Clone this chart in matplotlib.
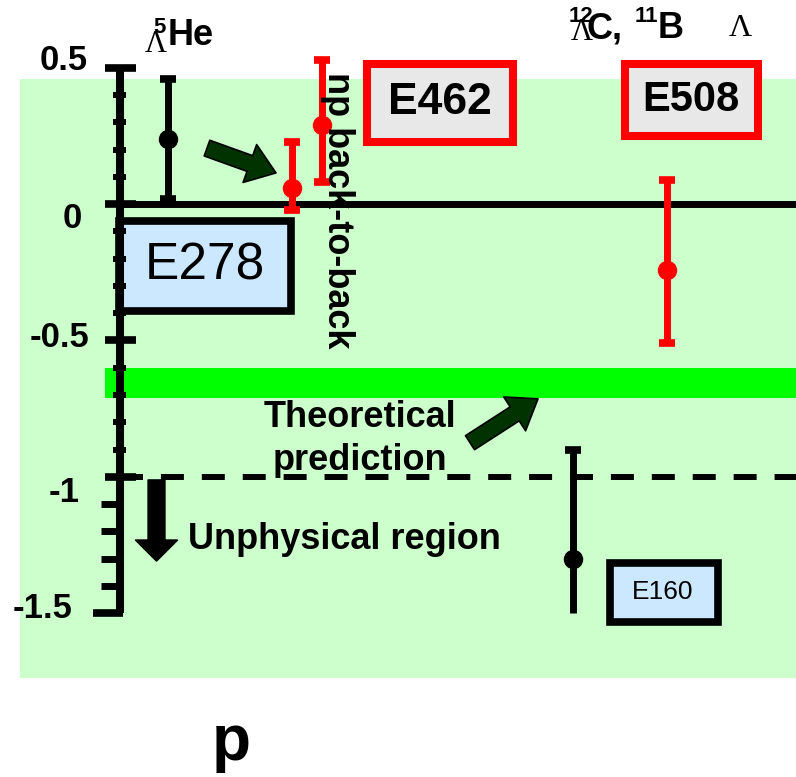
import matplotlib
matplotlib.use("Agg")
import matplotlib.pyplot as plt
from matplotlib.patches import Rectangle, FancyArrowPatch

plt.rcParams['font.family'] = ['Liberation Sans', 'DejaVu Sans']

# measured asymmetry values with errors
labels = ["5He", "E462 a", "E462 b", "E160", "E508"]
xpos = [168, 292, 322, 573, 667]
vals = [0.24, 0.06, 0.29, -1.30, -0.24]
err_up = [0.22, 0.17, 0.24, 0.40, 0.33]
err_lo = [0.22, 0.08, 0.21, 0.20, 0.27]
colors = ["black", "red", "red", "black", "red"]

theory = (-0.71, -0.60)
major_ticks = [0.5, 0, -0.5, -1, -1.5]
tick_text = ["0.5", "0", "-0.5", "-1", "-1.5"]
tick_text_x = [88, 82, 89, 80, 72]
tick_text_dy = [-0.007, -0.087, -0.024, -0.093, -0.018]
minor_upper = [0.4, 0.3, 0.2, 0.1, -0.1, -0.2, -0.3, -0.4, -0.6, -0.7, -0.8, -0.9]
minor_lower = [-1.1, -1.2, -1.3, -1.4]

fig = plt.figure(figsize=(7.96, 7.77), dpi=100)
ax = fig.add_axes([0, 0, 1, 1])
ax.set_xlim(0, 796)
ax.set_ylim(-2.1018, 0.7495)
ax.axis('off')

# backgrounds
ax.add_patch(Rectangle((20, -1.7385), 776, 0.4596 + 1.7385, facecolor="#ccffcc", edgecolor="none", zorder=0))
ax.add_patch(Rectangle((105, theory[0]), 691, theory[1] - theory[0], facecolor="#00ff00", edgecolor="none", zorder=1))

# zero line and unphysical limit
ax.plot([120, 796], [0, 0], color="black", lw=5, zorder=2, solid_capstyle="butt")
ax.plot([120, 796], [-1, -1], color="black", lw=4.3, dashes=(3.85, 3.0), zorder=2)

# boxes
ax.add_patch(Rectangle((119, -0.3917), 172, 0.3302, facecolor="#cce8ff", edgecolor="black", lw=5.5, zorder=3))
ax.text(205, -0.228, "E278", fontsize=37, ha="center", va="center", zorder=4)
ax.add_patch(Rectangle((609.5, -1.5312), 108, 0.2165, facecolor="#cce8ff", edgecolor="black", lw=5.5, zorder=3))
ax.text(663, -1.424, "E160", fontsize=19, ha="center", va="center", zorder=4)
ax.add_patch(Rectangle((367, 0.2284), 146, 0.2863, facecolor="#e8e8e8", edgecolor="red", lw=5.8, zorder=3))
ax.text(440, 0.372, "E462", fontsize=32, fontweight="bold", ha="center", va="center", zorder=4)
ax.add_patch(Rectangle((625, 0.2505), 133, 0.2642, facecolor="#e8e8e8", edgecolor="red", lw=5.8, zorder=3))
ax.text(691, 0.382, "E508", fontsize=30, fontweight="bold", ha="center", va="center", zorder=4)

# y axis drawn by hand
ax.plot([120, 120], [-1.5, 0.5], color="black", lw=5.8, zorder=5, solid_capstyle="butt")
for t in major_ticks:
    x0 = 93 if t == -1.5 else 105
    x1 = 123 if t == -1.5 else 136
    ax.plot([x0, x1], [t, t], color="black", lw=5.5, zorder=5, solid_capstyle="butt")
for t in minor_upper:
    ax.plot([113, 126], [t, t], color="black", lw=4.3, zorder=5, solid_capstyle="butt")
for t in minor_lower:
    ax.plot([101, 120], [t, t], color="black", lw=5, zorder=5, solid_capstyle="butt")
for t, s, tx, dy in zip(major_ticks, tick_text, tick_text_x, tick_text_dy):
    ax.text(tx, t + dy, s, fontsize=25, fontweight="bold", ha="right", va="baseline", zorder=5)

# data points
for i in range(len(xpos)):
    cap = 0 if labels[i] == "E160" else 5.8
    ax.errorbar(xpos[i], vals[i], yerr=[[err_lo[i]], [err_up[i]]], fmt="o", color=colors[i],
                ms=13, lw=5, capsize=cap, capthick=5.5, zorder=6)
    if labels[i] == "E160":
        ax.plot(xpos[i], vals[i] + err_up[i], marker="_", ms=11.6, mew=5.5, color=colors[i], zorder=6)

# arrows
def arrow(x0, y0, x1, y1, fc, ec, tw, hw, hl):
    ax.add_patch(FancyArrowPatch((x0, y0), (x1, y1),
                                 arrowstyle=f"simple,head_width={hw},head_length={hl},tail_width={tw}",
                                 mutation_scale=1, shrinkA=0, shrinkB=0, fc=fc, ec=ec, lw=1.2, zorder=7))

arrow(156.5, -1.012, 156.5, -1.309, "black", "black", 12, 30, 15)
arrow(207, 0.206, 276, 0.115, "#003300", "black", 12, 29, 20)
arrow(470, -0.875, 538, -0.714, "#003300", "black", 12, 29, 20)

# annotations
ax.text(188, -1.265, "Unphysical region", fontsize=26, fontweight="bold", ha="left", va="baseline", zorder=7)
ax.text(360, -0.817, "Theoretical", fontsize=26, fontweight="bold", ha="center", va="baseline", zorder=7)
ax.text(360, -0.975, "prediction", fontsize=26, fontweight="bold", ha="center", va="baseline", zorder=7)
ax.text(338, -0.022, "np back-to-back", fontsize=26, fontweight="bold", rotation=-90,
        ha="center", va="center", zorder=7)

# hypernucleus labels on top
ax.text(168, 0.5844, "He", fontsize=26, fontweight="bold", ha="left", va="baseline")
ax.text(153, 0.628, "5", fontsize=16, fontweight="bold", ha="left", va="baseline")
ax.text(156, 0.5587, "Λ", fontsize=22, family="Liberation Serif", ha="center", va="baseline")

ax.text(582, 0.603, "Λ", fontsize=22, family="Liberation Serif", ha="center", va="baseline")
ax.text(569, 0.6688, "12", fontsize=16, fontweight="bold", ha="left", va="baseline")
ax.text(587, 0.610, "C,", fontsize=26, fontweight="bold", ha="left", va="baseline")
ax.text(635, 0.6688, "11", fontsize=16, fontweight="bold", ha="left", va="baseline")
ax.text(658, 0.610, "B", fontsize=26, fontweight="bold", ha="left", va="baseline")
ax.text(740, 0.618, "Λ", fontsize=23, family="Liberation Serif", ha="center", va="baseline")

ax.text(231, -2.0394, "p", fontsize=46, fontweight="bold", ha="center", va="baseline")

fig.savefig("out.png", dpi=100)
